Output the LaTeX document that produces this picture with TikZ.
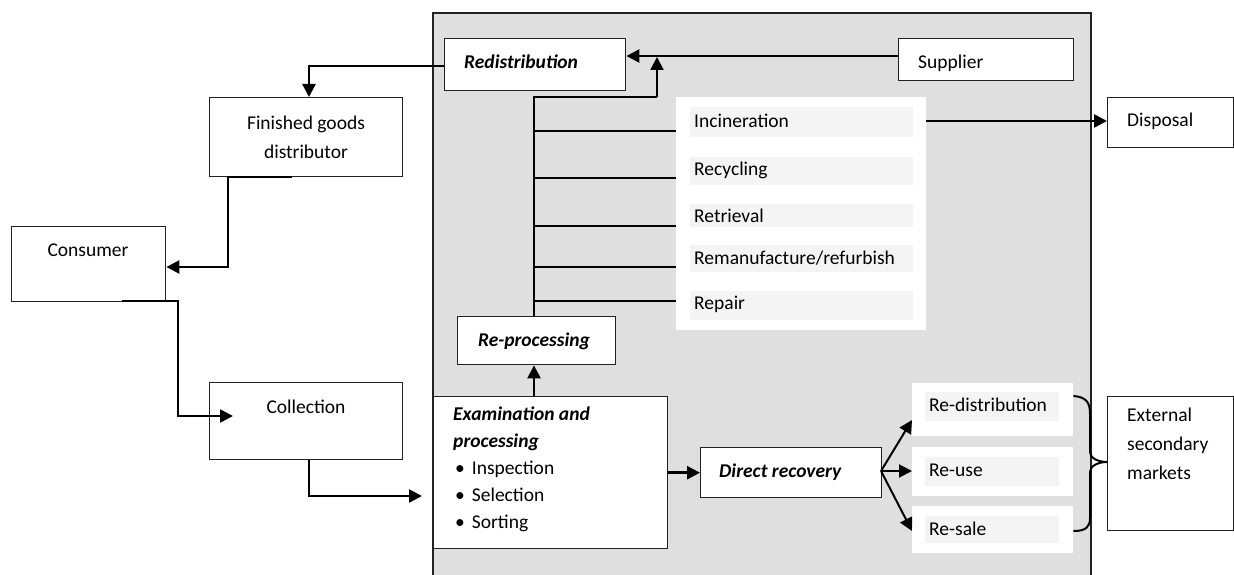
\documentclass[tikz,border=0pt]{standalone}
\usepackage{fontspec}
\setmainfont{Carlito}
\usetikzlibrary{arrows.meta}
\definecolor{panelgray}{HTML}{DFDFDF}
\definecolor{stripgray}{HTML}{F4F4F4}
\definecolor{edge}{HTML}{222222}
\begin{document}
\begin{tikzpicture}[x=1pt,y=-1pt,
  box/.style={draw=edge,line width=1.4pt,fill=white,inner sep=0pt,anchor=north west},
  panel/.style={fill=white,inner sep=0pt,anchor=north west},
  strip/.style={fill=stripgray,inner sep=0pt,anchor=north west},
  txt/.style={inner sep=0pt,font=\fontsize{19.5}{29}\selectfont},
  bi/.style={inner sep=0pt,font=\fontsize{19.5}{27}\selectfont\bfseries\itshape},
  conn/.style={draw=black,line width=2.5pt,-{Triangle[length=13pt,width=13pt]}},
  ln/.style={draw=black,line width=2pt},
]
\useasboundingbox (0,0) rectangle (1234,575);
\clip (0,0) rectangle (1234,575);

% big gray region
\path[fill=panelgray,draw=edge,line width=1.5pt] (433,590) -- (433,13) -- (1091,13) -- (1091,590);

% white panels
\node[panel,minimum width=250pt,minimum height=233pt] (wpanel) at (676,97) {};
\node[strip,minimum width=223pt,minimum height=30pt] (sinc) at (690,107) {};
\node[strip,minimum width=223pt,minimum height=28pt] (srec) at (690,157) {};
\node[strip,minimum width=223pt,minimum height=23pt] (sret) at (690,204) {};
\node[strip,minimum width=223pt,minimum height=27pt] (srem) at (690,245) {};
\node[strip,minimum width=223pt,minimum height=29pt] (srep) at (690,291) {};
\node[txt,anchor=west] (tinc) at (694,121) {Incineration};
\node[txt,anchor=west] (trec) at (694,170) {Recycling};
\node[txt,anchor=west] (tret) at (694,216) {Retrieval};
\node[txt,anchor=west] (trem) at (694,258) {Remanufacture/refurbish};
\node[txt,anchor=west] (trep) at (694,304) {Repair};

\node[panel,minimum width=161pt,minimum height=53pt] (wrd) at (912,383) {};
\node[panel,minimum width=161pt,minimum height=49pt] (wru) at (912,447) {};
\node[panel,minimum width=161pt,minimum height=47pt] (wrs) at (912,506) {};
\node[strip,minimum width=134pt,minimum height=29pt] (srd) at (925,392) {};
\node[strip,minimum width=134pt,minimum height=29pt] (sru) at (925,457) {};
\node[strip,minimum width=134pt,minimum height=27pt] (srs) at (925,516) {};
\node[txt,anchor=west] (trd) at (929,405) {Re-distribution};
\node[txt,anchor=west] (tru) at (929,470) {Re-use};
\node[txt,anchor=west] (trs) at (929,529) {Re-sale};

% boxes
\node[box,minimum width=181pt,minimum height=52pt] (redis) at (444,38) {};
\node[bi,anchor=west] (tredis) at (464,62) {Redistribution};
\node[box,minimum width=175pt,minimum height=42pt] (sup) at (898,38) {};
\node[txt,anchor=west] (tsup) at (918,63) {Supplier};
\node[box,minimum width=126pt,minimum height=50pt] (disp) at (1107,97) {};
\node[txt,anchor=west] (tdisp) at (1127,121) {Disposal};
\node[box,minimum width=193pt,minimum height=79pt] (fgd) at (209,97) {};
\node[txt,align=center] (tfgd) at (306,137) {Finished goods\\distributor};
\node[box,minimum width=154pt,minimum height=75pt] (cons) at (11,226) {};
\node[txt] (tcons) at (88,250) {Consumer};
\node[box,minimum width=193pt,minimum height=77pt] (coll) at (209,382) {};
\node[txt] (tcoll) at (306,407) {Collection};
\node[box,minimum width=158pt,minimum height=48pt] (repro) at (457,316) {};
\node[bi] (trepro) at (534,341) {Re-processing};
\node[box,minimum width=234pt,minimum height=152pt] (exam) at (433,396) {};
\node[bi,anchor=north west,align=left] (texam) at (453,407) {Examination and\\processing};
\node[txt,anchor=north west,align=left] (tlist) at (455,461) {\textbullet\hspace{7pt}Inspection\\[-2pt]\textbullet\hspace{7pt}Selection\\[-2pt]\textbullet\hspace{7pt}Sorting};
\node[box,minimum width=181pt,minimum height=50pt] (direct) at (700,447) {};
\node[bi,anchor=west] (tdirect) at (719,472) {Direct recovery};
\node[box,minimum width=126pt,minimum height=134pt] (ext) at (1107,396) {};
\node[txt,anchor=north west,align=left] (text) at (1127,408) {External\\secondary\\markets};

% connectors
\coordinate (k1) at (309,66);
\draw[conn] (redis.west |- k1) -- (k1) -- (k1 |- fgd.north);
\coordinate (k2) at (0,56);
\draw[conn] (sup.west |- k2) -- (redis.east |- k2);
\coordinate (f0) at (292,177);
\coordinate (f1) at (228,177);
\coordinate (f2) at (228,267);
\draw[conn] (f0) -- (f1) -- (f2) -- (cons.east |- f2);
\coordinate (c0) at (122,301);
\coordinate (c1) at (178,301);
\coordinate (c2) at (178,416);
\coordinate (c3) at (233,416);
\draw[conn] (c0) -- (c1) -- (c2) -- (c3);
\coordinate (d1) at (309,496);
\coordinate (d2) at (422,496);
\draw[conn] (coll.south -| d1) -- (d1) -- (d2);
% trunk
\coordinate (t0) at (534,97);
\coordinate (t1) at (657,97);
\coordinate (t2) at (657,57);
\draw[conn] (exam.north -| t0) -- (repro.south -| t0);
\draw[conn] (exam.east) -- (direct.west);
\draw[ln] (repro.north -| t0) -- (t0) -- (t1);
\draw[conn,line width=2pt] (t1) -- (t2);
\foreach \yy in {131,178,226,267,301} \draw[ln] (534,\yy) -- (wpanel.west |- 0,\yy);
\draw[conn] (wpanel.east |- tinc) -- (disp.west |- tinc);
% direct recovery fan
\coordinate (r0) at (881,471);
\draw[conn,line width=2pt] (r0) -- (912,420);
\draw[conn,line width=2pt] (r0) -- (wru.west |- r0);
\draw[conn,line width=2pt] (r0) -- (912,531);
% brace
\draw[line width=2pt] (wrd.east |- 0,396) .. controls (1086,397) and (1090,402) .. (1090,414)
  -- (1090,452) .. controls (1090,458) and (1098,462) .. (ext.west |- 0,462)
  .. controls (1098,462) and (1090,466) .. (1090,472)
  -- (1090,518) .. controls (1090,527) and (1086,531) .. (wrs.east |- 0,531);
\end{tikzpicture}
\end{document}
